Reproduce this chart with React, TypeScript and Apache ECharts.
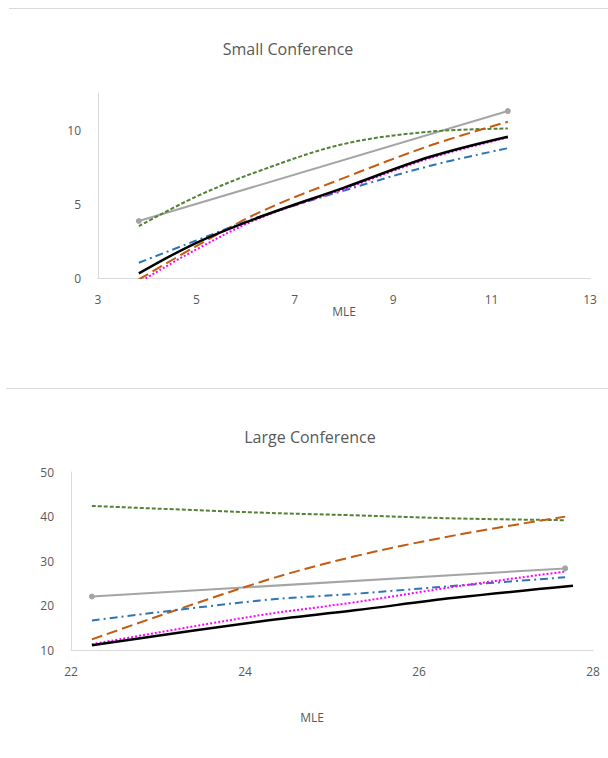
import React, { useEffect, useRef } from "react";
import * as echarts from "echarts";

// ---- Small Conference ----
const smallX = [3.83, 4.97, 6.29, 7.99, 9.75, 11.33];
const smallGreen = [3.5, 5.46, 7.25, 9.05, 9.89, 10.1];
const smallOrange = [-0.1, 2.1, 4.45, 6.75, 8.95, 10.56];
const smallBlue = [1.03, 2.5, 4.15, 5.9, 7.58, 8.77];
const smallMagenta = [-0.3, 1.88, 4.05, 6.0, 8.1, 9.5];
const smallBlack = [0.31, 2.33, 4.12, 6.09, 8.19, 9.55];
const smallGrayX = [3.83, 11.33];
const smallGray = [3.85, 11.28];

// ---- Large Conference ----
const largeX = [22.24, 24.17, 25.26, 26.41, 27.68];
const largeGreen = [42.4, 40.9, 40.3, 39.6, 39.2];
const largeOrange = [12.5, 25.3, 31.1, 35.8, 40.0];
const largeBlue = [16.7, 21.2, 22.7, 24.5, 26.4];
const largeMagenta = [11.4, 17.9, 20.8, 24.3, 27.7];
const largeBlackX = [22.24, 24.17, 25.26, 26.41, 27.77];
const largeBlack = [11.2, 16.5, 19.0, 21.8, 24.5];
const largeGrayX = [22.24, 27.68];
const largeGray = [22.1, 28.4];

const smallXTicks = [3, 5, 7, 9, 11, 13];
const smallYTicks = [0, 5, 10];
const largeXTicks = [22, 24, 26, 28];
const largeYTicks = [10, 20, 30, 40, 50];

const FONT = "'Open Sans', 'Noto Sans', sans-serif";
const TXT = "#595959";
const AXIS = "#D9D9D9";

const C = {
  green: "#548235",
  orange: "#C55A11",
  blue: "#2E75B6",
  magenta: "#FF00FF",
  black: "#000000",
  gray: "#A5A5A5",
};

const pairs = (xs: number[], ys: number[]) => xs.map((x, i) => [x, ys[i]]);

function curve(
  xs: number[],
  ys: number[],
  color: string,
  type: any,
  width: number,
  gi: number
) {
  return {
    type: "line",
    xAxisIndex: gi,
    yAxisIndex: gi,
    data: pairs(xs, ys),
    smooth: 0.35,
    showSymbol: false,
    symbol: "none",
    clip: true,
    lineStyle: { color, type, width, cap: "butt" },
    silent: true,
  };
}

function grayLine(xs: number[], ys: number[], gi: number) {
  return {
    type: "line",
    xAxisIndex: gi,
    yAxisIndex: gi,
    data: pairs(xs, ys),
    showSymbol: true,
    symbol: "circle",
    symbolSize: 6,
    itemStyle: { color: C.gray, borderWidth: 0 },
    lineStyle: { color: C.gray, width: 2 },
    silent: true,
  };
}

function makeX(
  min: number,
  max: number,
  interval: number,
  ticks: number[],
  nameGap: number,
  namePad: number[],
  gi: number
) {
  return {
    type: "value",
    gridIndex: gi,
    min,
    max,
    interval,
    name: "MLE",
    nameLocation: "middle",
    nameGap,
    nameTextStyle: { color: TXT, fontSize: 12, fontFamily: FONT, padding: namePad },
    axisLine: { show: true, onZero: false, lineStyle: { color: AXIS, width: 1 } },
    axisTick: { show: false },
    splitLine: { show: false },
    axisLabel: {
      color: TXT,
      fontSize: 12,
      fontFamily: FONT,
      margin: 15,
      formatter: (v: number) => (ticks.indexOf(v) >= 0 ? String(v) : ""),
    },
  };
}

function makeY(min: number, max: number, interval: number, ticks: number[], gi: number) {
  return {
    type: "value",
    gridIndex: gi,
    min,
    max,
    interval,
    axisLine: { show: true, onZero: false, lineStyle: { color: AXIS, width: 1 } },
    axisTick: { show: false },
    splitLine: { show: false },
    axisLabel: {
      color: TXT,
      fontSize: 12,
      fontFamily: FONT,
      margin: 17,
      formatter: (v: number) => (ticks.indexOf(v) >= 0 ? String(v) : ""),
    },
  };
}

export default function App() {
  const ref = useRef<HTMLDivElement>(null);
  useEffect(() => {
    document.body.style.margin = "0";
    const chart = echarts.init(ref.current as HTMLDivElement, undefined, { renderer: "svg" });
    const option: any = {
      animation: false,
      backgroundColor: "#FFFFFF",
      grid: [
        { left: 98, right: 18, top: 93, bottom: 480, containLabel: false },
        { left: 71, right: 15, top: 472, bottom: 107.5, containLabel: false },
      ],
      xAxis: [
        makeX(3, 13, 2, smallXTicks, 25, [0, 0, 0, 0], 0),
        makeX(22, 28, 2, largeXTicks, 61, [0, 40, 0, 0], 1),
      ],
      yAxis: [makeY(0, 12.5, 5, smallYTicks, 0), makeY(10, 50, 10, largeYTicks, 1)],
      graphic: [
        {
          type: "line",
          shape: { x1: 9, y1: 8.5, x2: 608, y2: 8.5 },
          style: { stroke: AXIS, lineWidth: 1 },
        },
        {
          type: "line",
          shape: { x1: 6, y1: 388.5, x2: 608, y2: 388.5 },
          style: { stroke: AXIS, lineWidth: 1 },
        },
        {
          type: "text",
          x: 288,
          y: 49,
          style: {
            text: "Small Conference",
            fill: TXT,
            font: `16px ${FONT}`,
            align: "center",
            verticalAlign: "middle",
            textAlign: "center",
            textVerticalAlign: "middle",
          },
        },
        {
          type: "text",
          x: 310,
          y: 437,
          style: {
            text: "Large Conference",
            fill: TXT,
            font: `16px ${FONT}`,
            align: "center",
            verticalAlign: "middle",
            textAlign: "center",
            textVerticalAlign: "middle",
          },
        },
      ],
      series: [
        grayLine(smallGrayX, smallGray, 0),
        curve(smallX, smallGreen, C.green, [4, 2], 2, 0),
        curve(smallX, smallOrange, C.orange, [11, 5], 2, 0),
        curve(smallX, smallBlue, C.blue, [8, 4, 2, 4], 2, 0),
        curve(smallX, smallMagenta, C.magenta, [2, 2], 2, 0),
        curve(smallX, smallBlack, C.black, "solid", 2.5, 0),

        grayLine(largeGrayX, largeGray, 1),
        curve(largeX, largeGreen, C.green, [4, 2], 2, 1),
        curve(largeX, largeOrange, C.orange, [11, 5], 2, 1),
        curve(largeX, largeBlue, C.blue, [8, 4, 2, 4], 2, 1),
        curve(largeX, largeMagenta, C.magenta, [2, 2], 2, 1),
        curve(largeBlackX, largeBlack, C.black, "solid", 2.5, 1),
      ],
    };
    chart.setOption(option);
    return () => chart.dispose();
  }, []);
  return <div ref={ref} style={{ width: 608, height: 758 }} />;
}
